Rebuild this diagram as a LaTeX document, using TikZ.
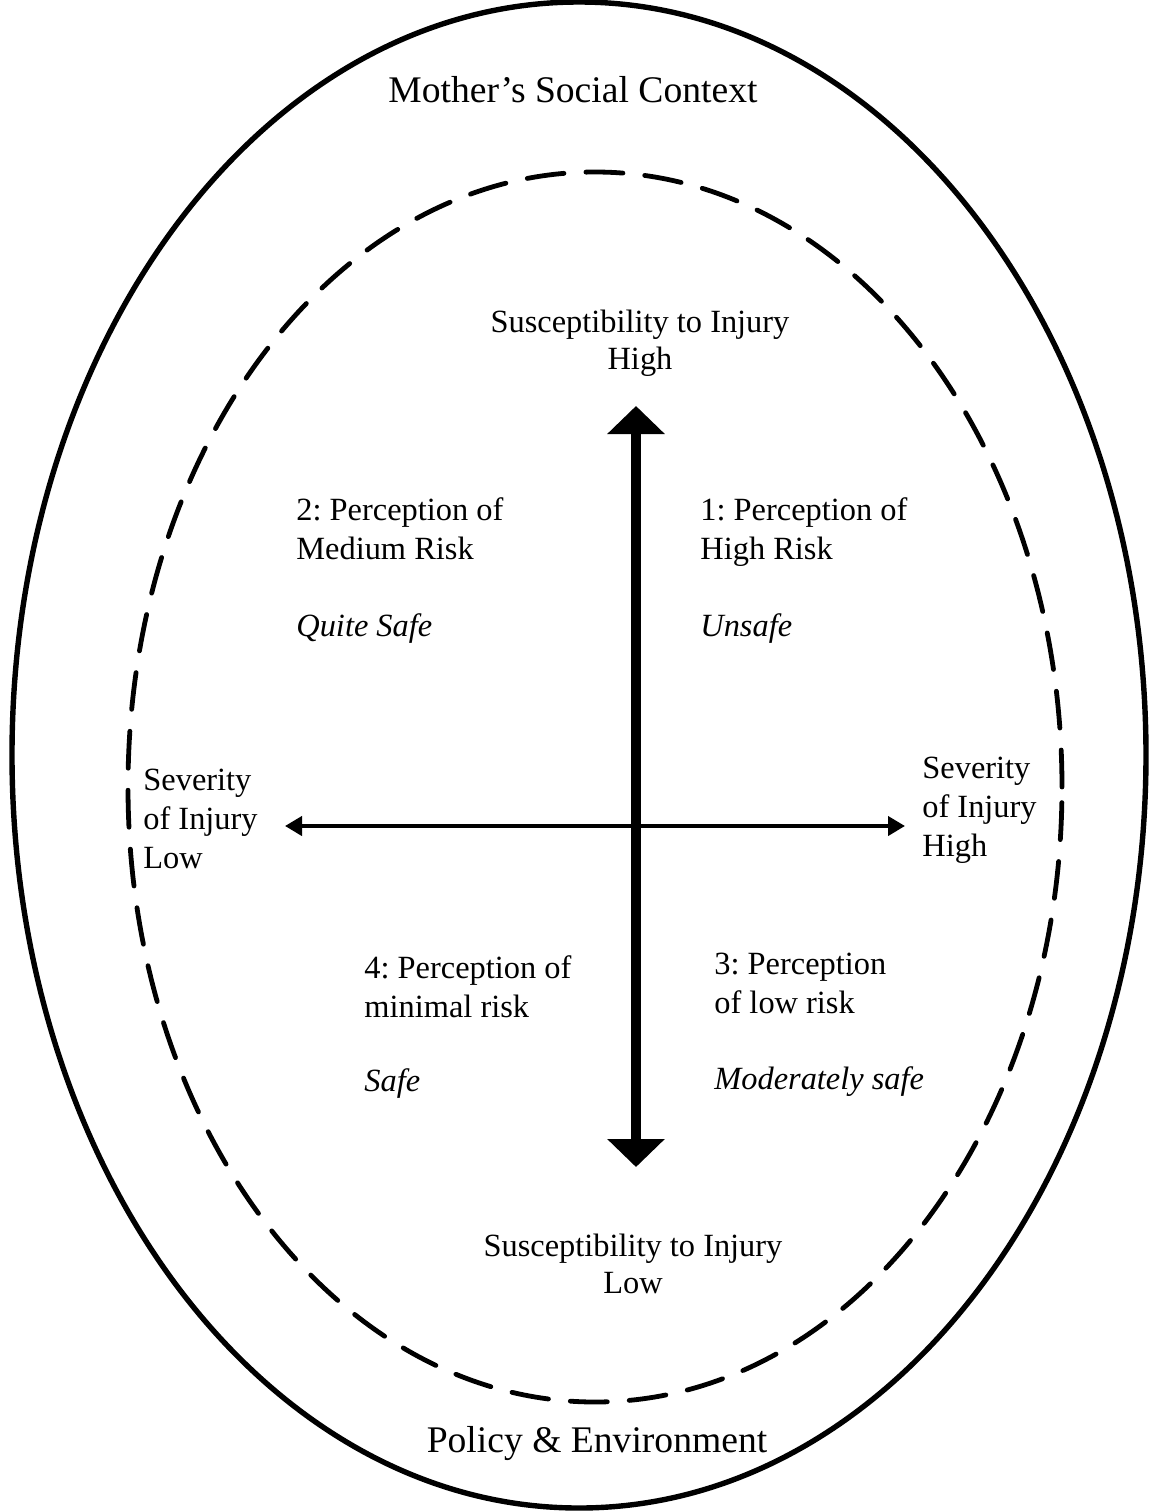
\documentclass[tikz,border=0pt]{standalone}
\usepackage{fontspec}
\setmainfont{Liberation Serif}
\usepackage{tikz}
\usetikzlibrary{positioning, arrows.meta}
\frenchspacing

\begin{document}
\begin{tikzpicture}[x=0.5pt, y=-0.5pt,
    quadtext/.style={anchor=north west, inner sep=0pt, align=left,
      font=\fontsize{16.2}{19.5}\selectfont},
    axistext/.style={inner sep=0pt, align=center,
      font=\fontsize{16.2}{18.5}\selectfont},
    safety/.style={quadtext, font=\fontsize{16.2}{19.5}\selectfont\itshape}]
    \useasboundingbox (0,0) rectangle (1153,1512);

    % contexts
    \draw[line width=2.7pt] (579,755) ellipse [x radius=283.5pt, y radius=376.5pt];
    \draw[line width=2.4pt, line cap=round, dash pattern=on 18.5pt off 11pt]
      (595,787) ellipse [x radius=233.5pt, y radius=307.5pt];
    \node (social) at (573,90) {\fontsize{18.8}{22}\selectfont Mother's Social Context};
    \node (policy) at (597,1443) {\fontsize{18.8}{22}\selectfont Policy \& Environment};

    % axes
    \node[axistext] (suschigh) at (640,343) {Susceptibility to Injury\\High};
    \node[axistext] (susclow) at (633,1264) {Susceptibility to Injury\\Low};
    \node[quadtext, anchor=west] (sevlow) at (143,819) {Severity\\of Injury\\Low};
    \node[quadtext, anchor=west] (sevhigh) at (922,810) {Severity\\of Injury\\High};

    \coordinate (vtop) at (636,406);
    \coordinate (vbot) at (636,1167);
    \coordinate (hleft) at (285,826);
    \coordinate (hright) at (905,826);
    \draw[line width=5pt, {Triangle[length=14pt, width=28pt]}-{Triangle[length=14pt, width=28pt]}]
      (vbot) -- (vtop);
    \draw[line width=2pt, {Triangle[length=8.5pt, width=9.5pt]}-{Triangle[length=8.5pt, width=9.5pt]}]
      (hleft) -- (hright);

    % quadrants
    \node[quadtext] (quadtwo) at (296,497) {2: Perception of\\Medium Risk};
    \node[safety] (quitesafe) at (296,613) {Quite Safe};
    \node[quadtext] (quadone) at (700,497) {1: Perception of\\High Risk};
    \node[safety] (unsafe) at (700,613) {Unsafe};
    \node[quadtext] (quadfour) at (364,955) {4: Perception of\\minimal risk};
    \node[safety] (safe) at (364,1068) {Safe};
    \node[quadtext] (quadthree) at (714,953) {3: Perception\\of low risk};
    \node[safety] (modsafe) at (714,1066) {Moderately safe};
\end{tikzpicture}
\end{document}
